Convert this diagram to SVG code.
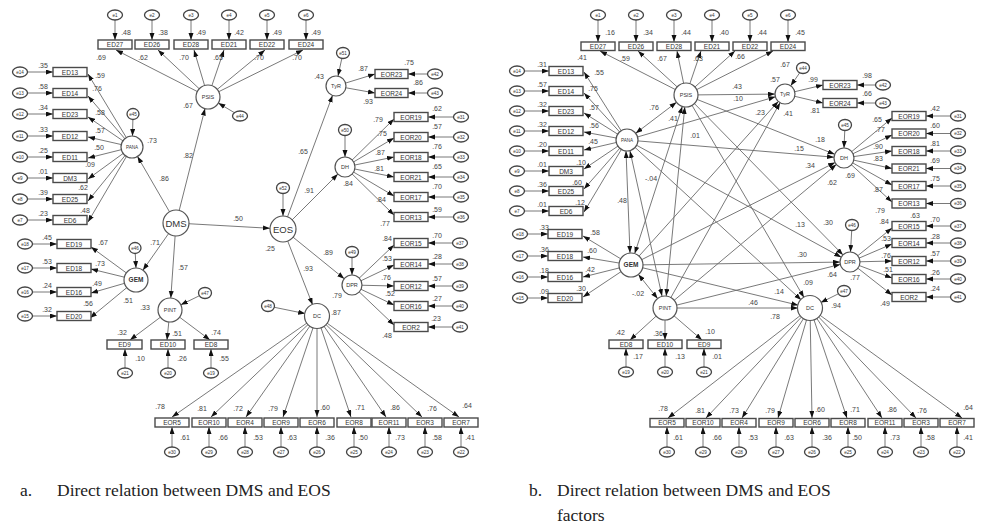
<svg xmlns="http://www.w3.org/2000/svg" width="992" height="532" viewBox="0 0 992 532">
<style>
.ln{stroke:#6a6a6a;stroke-width:0.9;fill:none;marker-end:url(#ah)}
.cv{stroke:#6a6a6a;stroke-width:0.9;fill:none;marker-start:url(#ah2);marker-end:url(#ah2)}
.bx{fill:#fff;stroke:#4a4a4a;stroke-width:1.4}
.lv{fill:#fff;stroke:#555;stroke-width:1.2}
.er{fill:#fff;stroke:#444;stroke-width:1.3}
.t{font-family:"Liberation Sans",Arial,sans-serif;font-size:6.5px;fill:#333;text-anchor:middle}
.et{font-size:4.6px}
.lt{font-size:5.5px}
.big{font-size:9.5px}
.v{font-family:"Liberation Sans",Arial,sans-serif;font-size:7px;fill:#444;text-anchor:middle}
.cap{font-family:"Liberation Serif","Times New Roman",serif;font-size:17.5px;fill:#222}
</style>
<defs>
<marker id="ah" markerUnits="userSpaceOnUse" markerWidth="8" markerHeight="6" refX="7" refY="2.5" orient="auto"><path d="M0,0 L7,2.5 L0,5 z" fill="#111"/></marker>
<marker id="ah2" markerUnits="userSpaceOnUse" markerWidth="8" markerHeight="6" refX="7" refY="2.5" orient="auto-start-reverse"><path d="M0,0 L7,2.5 L0,5 z" fill="#111"/></marker>
</defs>
<rect width="992" height="532" fill="#fff"/>

<g id="connectors-a">
<line class="ln" x1="115" y1="15" x2="115" y2="40"/><line class="ln" x1="152" y1="15" x2="152" y2="40"/><line class="ln" x1="191" y1="15" x2="191" y2="40"/><line class="ln" x1="229" y1="15" x2="229" y2="40"/><line class="ln" x1="267" y1="15" x2="267" y2="40"/><line class="ln" x1="306" y1="15" x2="306" y2="40"/>
<line class="ln" x1="208" y1="97" x2="116" y2="50"/><line class="ln" x1="208" y1="97" x2="158" y2="50"/><line class="ln" x1="208" y1="97" x2="194" y2="50"/><line class="ln" x1="208" y1="97" x2="224" y2="50"/><line class="ln" x1="208" y1="97" x2="265" y2="50"/><line class="ln" x1="208" y1="97" x2="303" y2="50"/>
<line class="ln" x1="240" y1="116" x2="218.3" y2="103.1"/>
<line class="ln" x1="20" y1="72" x2="53" y2="72"/><line class="ln" x1="20" y1="93" x2="53" y2="93"/><line class="ln" x1="20" y1="114" x2="53" y2="114"/><line class="ln" x1="20" y1="136" x2="53" y2="136"/><line class="ln" x1="20" y1="157" x2="53" y2="157"/><line class="ln" x1="20" y1="178" x2="53" y2="178"/><line class="ln" x1="20" y1="199" x2="53" y2="199"/><line class="ln" x1="20" y1="220" x2="53" y2="220"/>
<line class="ln" x1="132" y1="147" x2="88" y2="74"/><line class="ln" x1="132" y1="147" x2="88" y2="96"/><line class="ln" x1="132" y1="147" x2="88" y2="117"/><line class="ln" x1="132" y1="147" x2="88" y2="137"/><line class="ln" x1="132" y1="147" x2="88" y2="158"/><line class="ln" x1="132" y1="147" x2="88" y2="179"/><line class="ln" x1="132" y1="147" x2="88" y2="201"/><line class="ln" x1="132" y1="147" x2="88" y2="222"/>
<line class="ln" x1="133" y1="114" x2="132.5" y2="136"/>
<line class="ln" x1="25" y1="244" x2="57" y2="244"/><line class="ln" x1="25" y1="268" x2="57" y2="268"/><line class="ln" x1="25" y1="292" x2="57" y2="292"/><line class="ln" x1="25" y1="316" x2="57" y2="316"/>
<line class="ln" x1="136" y1="280" x2="91" y2="247"/><line class="ln" x1="136" y1="280" x2="91" y2="269"/><line class="ln" x1="136" y1="280" x2="91" y2="293"/><line class="ln" x1="136" y1="280" x2="90" y2="318"/>
<line class="ln" x1="135" y1="248" x2="136" y2="268"/>
<line class="ln" x1="205" y1="293" x2="180.8" y2="304.8"/>
<line class="ln" x1="170" y1="310" x2="130" y2="340"/><line class="ln" x1="170" y1="310" x2="167" y2="340"/><line class="ln" x1="170" y1="310" x2="210" y2="340"/>
<line class="ln" x1="125" y1="373" x2="125" y2="349"/><line class="ln" x1="168" y1="373" x2="168" y2="349"/><line class="ln" x1="211" y1="373" x2="211" y2="349"/>
<line class="ln" x1="176" y1="223" x2="205" y2="108.6"/><line class="ln" x1="176" y1="223" x2="137.5" y2="156.5"/><line class="ln" x1="176" y1="223" x2="142.9" y2="270.2"/><line class="ln" x1="176" y1="223" x2="170.8" y2="298"/><line class="ln" x1="176" y1="223" x2="270" y2="228.3"/>
<line class="ln" x1="283" y1="188" x2="283" y2="216"/>
<line class="ln" x1="283" y1="229" x2="332.5" y2="95.4"/><line class="ln" x1="283" y1="229" x2="337.9" y2="174.1"/><line class="ln" x1="283" y1="229" x2="344.2" y2="278.7"/><line class="ln" x1="283" y1="229" x2="312.6" y2="304.8"/>
<line class="ln" x1="343" y1="53" x2="338" y2="76"/>
<line class="ln" x1="336" y1="86" x2="375" y2="74"/><line class="ln" x1="336" y1="86" x2="375" y2="93"/>
<line class="ln" x1="435" y1="74" x2="408" y2="74"/><line class="ln" x1="435" y1="93" x2="408" y2="93"/>
<line class="ln" x1="345" y1="130" x2="345" y2="157"/>
<line class="ln" x1="345" y1="167" x2="394" y2="119"/><line class="ln" x1="345" y1="167" x2="394" y2="138"/><line class="ln" x1="345" y1="167" x2="394" y2="157"/><line class="ln" x1="345" y1="167" x2="394" y2="177"/><line class="ln" x1="345" y1="167" x2="394" y2="196"/><line class="ln" x1="345" y1="167" x2="394" y2="215"/>
<line class="ln" x1="461" y1="117" x2="428" y2="117"/><line class="ln" x1="461" y1="137" x2="428" y2="137"/><line class="ln" x1="461" y1="157" x2="428" y2="157"/><line class="ln" x1="461" y1="177" x2="428" y2="177"/><line class="ln" x1="461" y1="197" x2="428" y2="197"/><line class="ln" x1="461" y1="217" x2="428" y2="217"/>
<line class="ln" x1="352" y1="252" x2="352" y2="275"/>
<line class="ln" x1="352" y1="285" x2="394" y2="245"/><line class="ln" x1="352" y1="285" x2="394" y2="265"/><line class="ln" x1="352" y1="285" x2="394" y2="286"/><line class="ln" x1="352" y1="285" x2="394" y2="305"/><line class="ln" x1="352" y1="285" x2="394" y2="325"/>
<line class="ln" x1="460" y1="243" x2="428" y2="243"/><line class="ln" x1="460" y1="264" x2="428" y2="264"/><line class="ln" x1="460" y1="286" x2="428" y2="286"/><line class="ln" x1="460" y1="306" x2="428" y2="306"/><line class="ln" x1="460" y1="327" x2="428" y2="327"/>
<line class="ln" x1="268" y1="306" x2="305.2" y2="313.6"/>
<line class="ln" x1="317" y1="316" x2="172" y2="417"/><line class="ln" x1="317" y1="316" x2="211" y2="417"/><line class="ln" x1="317" y1="316" x2="246" y2="417"/><line class="ln" x1="317" y1="316" x2="283" y2="417"/><line class="ln" x1="317" y1="316" x2="317" y2="417"/><line class="ln" x1="317" y1="316" x2="351" y2="417"/><line class="ln" x1="317" y1="316" x2="386" y2="417"/><line class="ln" x1="317" y1="316" x2="422" y2="417"/><line class="ln" x1="317" y1="316" x2="459" y2="417"/>
<line class="ln" x1="172" y1="452" x2="172" y2="427"/><line class="ln" x1="209" y1="452" x2="209" y2="427"/><line class="ln" x1="245" y1="452" x2="245" y2="427"/><line class="ln" x1="281" y1="452" x2="281" y2="427"/><line class="ln" x1="317" y1="452" x2="317" y2="427"/><line class="ln" x1="354" y1="452" x2="354" y2="427"/><line class="ln" x1="389" y1="452" x2="389" y2="427"/><line class="ln" x1="425" y1="452" x2="425" y2="427"/><line class="ln" x1="461" y1="452" x2="461" y2="427"/>
</g>

<g id="connectors-b">
<line class="ln" x1="598" y1="15" x2="598" y2="42"/><line class="ln" x1="636" y1="15" x2="636" y2="42"/><line class="ln" x1="674" y1="15" x2="674" y2="42"/><line class="ln" x1="712" y1="15" x2="712" y2="42"/><line class="ln" x1="750" y1="15" x2="750" y2="42"/><line class="ln" x1="788" y1="15" x2="788" y2="42"/>
<line class="ln" x1="686" y1="95" x2="600" y2="51"/><line class="ln" x1="686" y1="95" x2="638" y2="51"/><line class="ln" x1="686" y1="95" x2="677" y2="51"/><line class="ln" x1="686" y1="95" x2="701" y2="51"/><line class="ln" x1="686" y1="95" x2="735" y2="51"/><line class="ln" x1="686" y1="95" x2="773" y2="51"/>
<line class="ln" x1="517" y1="71" x2="549" y2="71"/><line class="ln" x1="517" y1="91" x2="549" y2="91"/><line class="ln" x1="517" y1="111" x2="549" y2="111"/><line class="ln" x1="517" y1="131" x2="549" y2="131"/><line class="ln" x1="517" y1="151" x2="549" y2="151"/><line class="ln" x1="517" y1="171" x2="549" y2="171"/><line class="ln" x1="517" y1="191" x2="549" y2="191"/><line class="ln" x1="517" y1="211" x2="549" y2="211"/>
<line class="ln" x1="627" y1="140" x2="584" y2="72"/><line class="ln" x1="627" y1="140" x2="584" y2="93"/><line class="ln" x1="627" y1="140" x2="584" y2="113"/><line class="ln" x1="627" y1="140" x2="584" y2="132"/><line class="ln" x1="627" y1="140" x2="584" y2="150"/><line class="ln" x1="627" y1="140" x2="584" y2="169"/><line class="ln" x1="627" y1="140" x2="584" y2="189"/><line class="ln" x1="627" y1="140" x2="584" y2="212"/>
<line class="ln" x1="520" y1="234" x2="548" y2="234"/><line class="ln" x1="520" y1="256" x2="548" y2="256"/><line class="ln" x1="520" y1="277" x2="548" y2="277"/><line class="ln" x1="520" y1="298" x2="548" y2="298"/>
<line class="ln" x1="631" y1="265" x2="583" y2="236"/><line class="ln" x1="631" y1="265" x2="583" y2="257"/><line class="ln" x1="631" y1="265" x2="583" y2="277"/><line class="ln" x1="631" y1="265" x2="583" y2="297"/>
<line class="ln" x1="665" y1="308" x2="630" y2="340"/><line class="ln" x1="665" y1="308" x2="665" y2="340"/><line class="ln" x1="665" y1="308" x2="702" y2="340"/>
<line class="ln" x1="626" y1="372" x2="626" y2="348.5"/><line class="ln" x1="665" y1="372" x2="665" y2="348.5"/><line class="ln" x1="704" y1="372" x2="704" y2="348.5"/>
<line class="cv" x1="635.7" y1="133.3" x2="676.5" y2="102.3"/>
<line class="cv" x1="626" y1="151" x2="630" y2="253"/>
<line class="cv" x1="630" y1="151" x2="662" y2="296"/>
<line class="cv" x1="682.3" y1="106.4" x2="634.7" y2="253.6"/>
<line class="cv" x1="684.8" y1="106.9" x2="666.2" y2="296.1"/>
<line class="cv" x1="638.4" y1="274.4" x2="657.6" y2="298.6"/>
<line class="ln" x1="686" y1="95" x2="775" y2="94.1"/><line class="ln" x1="686" y1="95" x2="834.7" y2="154.3"/><line class="ln" x1="686" y1="95" x2="843" y2="254.9"/><line class="ln" x1="686" y1="95" x2="804" y2="297.6"/>
<line class="ln" x1="627" y1="140" x2="775.4" y2="96.8"/><line class="ln" x1="627" y1="140" x2="834" y2="157.2"/><line class="ln" x1="627" y1="140" x2="841.2" y2="257.2"/><line class="ln" x1="627" y1="140" x2="801.2" y2="299.9"/>
<line class="ln" x1="631" y1="265" x2="778.3" y2="101.4"/><line class="ln" x1="631" y1="265" x2="835.1" y2="162.5"/><line class="ln" x1="631" y1="265" x2="840" y2="262.1"/><line class="ln" x1="631" y1="265" x2="798.3" y2="305.2"/>
<line class="ln" x1="665" y1="308" x2="780.1" y2="102.7"/><line class="ln" x1="665" y1="308" x2="836.3" y2="164.4"/><line class="ln" x1="665" y1="308" x2="840.3" y2="264.4"/><line class="ln" x1="665" y1="308" x2="798" y2="308"/>
<line class="ln" x1="803" y1="68" x2="790.7" y2="85.8"/>
<line class="ln" x1="785" y1="94" x2="823" y2="85"/><line class="ln" x1="785" y1="94" x2="823" y2="103"/>
<line class="ln" x1="883" y1="85" x2="857" y2="85"/><line class="ln" x1="883" y1="103" x2="857" y2="103"/>
<line class="ln" x1="845" y1="125" x2="844" y2="148"/>
<line class="ln" x1="844" y1="158" x2="892" y2="118"/><line class="ln" x1="844" y1="158" x2="892" y2="135"/><line class="ln" x1="844" y1="158" x2="892" y2="151"/><line class="ln" x1="844" y1="158" x2="892" y2="168.5"/><line class="ln" x1="844" y1="158" x2="892" y2="185"/><line class="ln" x1="844" y1="158" x2="892" y2="202"/>
<line class="ln" x1="958" y1="116" x2="926" y2="116"/><line class="ln" x1="958" y1="133.5" x2="926" y2="133.5"/><line class="ln" x1="958" y1="151" x2="926" y2="151"/><line class="ln" x1="958" y1="168.5" x2="926" y2="168.5"/><line class="ln" x1="958" y1="186" x2="926" y2="186"/><line class="ln" x1="958" y1="203.5" x2="926" y2="203.5"/>
<line class="ln" x1="852" y1="225" x2="850.5" y2="252"/>
<line class="ln" x1="850" y1="262" x2="892" y2="228"/><line class="ln" x1="850" y1="262" x2="892" y2="244"/><line class="ln" x1="850" y1="262" x2="892" y2="261"/><line class="ln" x1="850" y1="262" x2="892" y2="278"/><line class="ln" x1="850" y1="262" x2="892" y2="295"/>
<line class="ln" x1="958" y1="226" x2="926" y2="226"/><line class="ln" x1="958" y1="243" x2="926" y2="243"/><line class="ln" x1="958" y1="261" x2="926" y2="261"/><line class="ln" x1="958" y1="279" x2="926" y2="279"/><line class="ln" x1="958" y1="297" x2="926" y2="297"/>
<line class="ln" x1="844" y1="291" x2="820.7" y2="302.6"/>
<line class="ln" x1="810" y1="308" x2="668" y2="418"/><line class="ln" x1="810" y1="308" x2="706" y2="418"/><line class="ln" x1="810" y1="308" x2="742" y2="418"/><line class="ln" x1="810" y1="308" x2="778" y2="418"/><line class="ln" x1="810" y1="308" x2="812" y2="418"/><line class="ln" x1="810" y1="308" x2="847" y2="418"/><line class="ln" x1="810" y1="308" x2="882" y2="418"/><line class="ln" x1="810" y1="308" x2="916" y2="418"/><line class="ln" x1="810" y1="308" x2="962" y2="418"/>
<line class="ln" x1="667" y1="452" x2="667" y2="427"/><line class="ln" x1="703" y1="452" x2="703" y2="427"/><line class="ln" x1="739" y1="452" x2="739" y2="427"/><line class="ln" x1="776" y1="452" x2="776" y2="427"/><line class="ln" x1="812" y1="452" x2="812" y2="427"/><line class="ln" x1="848" y1="452" x2="848" y2="427"/><line class="ln" x1="885" y1="452" x2="885" y2="427"/><line class="ln" x1="921" y1="452" x2="921" y2="427"/><line class="ln" x1="957" y1="452" x2="957" y2="427"/>
</g>

<!-- Panel a nodes -->
<g id="a-e1"><ellipse class="er" cx="115" cy="15" rx="7.5" ry="5"/><text class="t et" x="115" y="16.6">e1</text></g>
<g id="a-e2"><ellipse class="er" cx="152" cy="15" rx="7.5" ry="5"/><text class="t et" x="152" y="16.6">e2</text></g>
<g id="a-e3"><ellipse class="er" cx="191" cy="15" rx="7.5" ry="5"/><text class="t et" x="191" y="16.6">e3</text></g>
<g id="a-e4"><ellipse class="er" cx="229" cy="15" rx="7.5" ry="5"/><text class="t et" x="229" y="16.6">e4</text></g>
<g id="a-e5"><ellipse class="er" cx="267" cy="15" rx="7.5" ry="5"/><text class="t et" x="267" y="16.6">e5</text></g>
<g id="a-e6"><ellipse class="er" cx="306" cy="15" rx="7.5" ry="5"/><text class="t et" x="306" y="16.6">e6</text></g>
<g id="a-ED27"><rect class="bx" x="98" y="40" width="34" height="9"/><text class="t" x="115" y="47">ED27</text></g>
<g id="a-ED26"><rect class="bx" x="135" y="40" width="34" height="9"/><text class="t" x="152" y="47">ED26</text></g>
<g id="a-ED28"><rect class="bx" x="174" y="40" width="34" height="9"/><text class="t" x="191" y="47">ED28</text></g>
<g id="a-ED21"><rect class="bx" x="212" y="40" width="34" height="9"/><text class="t" x="229" y="47">ED21</text></g>
<g id="a-ED22"><rect class="bx" x="250" y="40" width="34" height="9"/><text class="t" x="267" y="47">ED22</text></g>
<g id="a-ED24"><rect class="bx" x="289" y="40" width="34" height="9"/><text class="t" x="306" y="47">ED24</text></g>
<g id="a-PSIS"><circle class="lv" cx="208" cy="97" r="12"/><text class="t lt" x="208" y="99">PSIS</text></g>
<g id="a-e44"><ellipse class="er" cx="240" cy="116" rx="7.5" ry="5"/><text class="t et" x="240" y="117.6">e44</text></g>

<g id="a-e14"><ellipse class="er" cx="20" cy="72" rx="7.5" ry="5"/><text class="t et" x="20" y="73.6">e14</text></g>
<g id="a-e13"><ellipse class="er" cx="20" cy="93" rx="7.5" ry="5"/><text class="t et" x="20" y="94.6">e13</text></g>
<g id="a-e12"><ellipse class="er" cx="20" cy="114" rx="7.5" ry="5"/><text class="t et" x="20" y="115.6">e12</text></g>
<g id="a-e11"><ellipse class="er" cx="20" cy="136" rx="7.5" ry="5"/><text class="t et" x="20" y="137.6">e11</text></g>
<g id="a-e10"><ellipse class="er" cx="20" cy="157" rx="7.5" ry="5"/><text class="t et" x="20" y="158.6">e10</text></g>
<g id="a-e9"><ellipse class="er" cx="20" cy="178" rx="7.5" ry="5"/><text class="t et" x="20" y="179.6">e9</text></g>
<g id="a-e8"><ellipse class="er" cx="20" cy="199" rx="7.5" ry="5"/><text class="t et" x="20" y="200.6">e8</text></g>
<g id="a-e7"><ellipse class="er" cx="20" cy="220" rx="7.5" ry="5"/><text class="t et" x="20" y="221.6">e7</text></g>
<g id="a-ED13"><rect class="bx" x="53" y="67.5" width="34" height="9"/><text class="t" x="70" y="74.5">ED13</text></g>
<g id="a-ED14"><rect class="bx" x="53" y="88.5" width="34" height="9"/><text class="t" x="70" y="95.5">ED14</text></g>
<g id="a-ED23"><rect class="bx" x="53" y="109.5" width="34" height="9"/><text class="t" x="70" y="116.5">ED23</text></g>
<g id="a-ED12"><rect class="bx" x="53" y="131.5" width="34" height="9"/><text class="t" x="70" y="138.5">ED12</text></g>
<g id="a-ED11"><rect class="bx" x="53" y="152.5" width="34" height="9"/><text class="t" x="70" y="159.5">ED11</text></g>
<g id="a-DM3"><rect class="bx" x="53" y="173.5" width="34" height="9"/><text class="t" x="70" y="180.5">DM3</text></g>
<g id="a-ED25"><rect class="bx" x="53" y="194.5" width="34" height="9"/><text class="t" x="70" y="201.5">ED25</text></g>
<g id="a-ED6"><rect class="bx" x="53" y="215.5" width="34" height="9"/><text class="t" x="70" y="222.5">ED6</text></g>
<g id="a-PANA"><circle class="lv" cx="132" cy="147" r="11"/><text class="t et" x="132" y="148.8">PANA</text></g>
<g id="a-e45"><ellipse class="er" cx="133" cy="114" rx="6" ry="5.5"/><text class="t et" x="133" y="115.6">e45</text></g>

<g id="a-e18"><ellipse class="er" cx="25" cy="244" rx="7.5" ry="5"/><text class="t et" x="25" y="245.6">e18</text></g>
<g id="a-e17"><ellipse class="er" cx="25" cy="268" rx="7.5" ry="5"/><text class="t et" x="25" y="269.6">e17</text></g>
<g id="a-e16"><ellipse class="er" cx="25" cy="292" rx="7.5" ry="5"/><text class="t et" x="25" y="293.6">e16</text></g>
<g id="a-e15"><ellipse class="er" cx="25" cy="316" rx="7.5" ry="5"/><text class="t et" x="25" y="317.6">e15</text></g>
<g id="a-ED19"><rect class="bx" x="57" y="239.5" width="34" height="9"/><text class="t" x="74" y="246.5">ED19</text></g>
<g id="a-ED18"><rect class="bx" x="57" y="263.5" width="34" height="9"/><text class="t" x="74" y="270.5">ED18</text></g>
<g id="a-ED16"><rect class="bx" x="57" y="287.5" width="34" height="9"/><text class="t" x="74" y="294.5">ED16</text></g>
<g id="a-ED20"><rect class="bx" x="57" y="311.5" width="34" height="9"/><text class="t" x="74" y="318.5">ED20</text></g>
<g id="a-GEM"><circle class="lv" cx="136" cy="280" r="12"/><text class="t" x="136" y="282.3" font-weight="bold">GEM</text></g>
<g id="a-e46"><ellipse class="er" cx="135" cy="248" rx="6" ry="5.5"/><text class="t et" x="135" y="249.6">e46</text></g>

<g id="a-PINT"><circle class="lv" cx="170" cy="310" r="12"/><text class="t lt" x="170" y="312">PINT</text></g>
<g id="a-e47"><ellipse class="er" cx="205" cy="293" rx="6.5" ry="5.5"/><text class="t et" x="205" y="294.6">e47</text></g>
<g id="a-ED9"><rect class="bx" x="107" y="340" width="35" height="9"/><text class="t" x="124.5" y="347">ED9</text></g>
<g id="a-ED10"><rect class="bx" x="151" y="340" width="34" height="9"/><text class="t" x="168" y="347">ED10</text></g>
<g id="a-ED8"><rect class="bx" x="194" y="340" width="34" height="9"/><text class="t" x="211" y="347">ED8</text></g>
<g id="a-e21"><ellipse class="er" cx="125" cy="373" rx="7.5" ry="5"/><text class="t et" x="125" y="374.6">e21</text></g>
<g id="a-e20"><ellipse class="er" cx="168" cy="373" rx="7.5" ry="5"/><text class="t et" x="168" y="374.6">e20</text></g>
<g id="a-e19"><ellipse class="er" cx="211" cy="373" rx="7.5" ry="5"/><text class="t et" x="211" y="374.6">e19</text></g>

<g id="a-DMS"><circle class="lv" cx="176" cy="223" r="13"/><text class="t big" x="176" y="226.5">DMS</text></g>
<g id="a-EOS"><circle class="lv" cx="283" cy="229" r="13"/><text class="t big" x="283" y="232.5">EOS</text></g>
<g id="a-e52"><ellipse class="er" cx="283" cy="188" rx="6.5" ry="5.5"/><text class="t et" x="283" y="189.6">e52</text></g>

<g id="a-TyR"><circle class="lv" cx="336" cy="86" r="10"/><text class="t lt" x="336" y="88">TyR</text></g>
<g id="a-e51"><ellipse class="er" cx="343" cy="53" rx="6.5" ry="5.5"/><text class="t et" x="343" y="54.6">e51</text></g>
<g id="a-EOR23"><rect class="bx" x="375" y="69.5" width="33" height="9"/><text class="t" x="391.5" y="76.5">EOR23</text></g>
<g id="a-EOR24"><rect class="bx" x="375" y="88.5" width="33" height="9"/><text class="t" x="391.5" y="95.5">EOR24</text></g>
<g id="a-e42"><ellipse class="er" cx="435" cy="74" rx="7.5" ry="5"/><text class="t et" x="435" y="75.6">e42</text></g>
<g id="a-e43"><ellipse class="er" cx="435" cy="93" rx="7.5" ry="5"/><text class="t et" x="435" y="94.6">e43</text></g>

<g id="a-DH"><circle class="lv" cx="345" cy="167" r="10"/><text class="t lt" x="345" y="169">DH</text></g>
<g id="a-e50"><ellipse class="er" cx="345" cy="130" rx="6.5" ry="5.5"/><text class="t et" x="345" y="131.6">e50</text></g>
<g id="a-EOR19"><rect class="bx" x="394" y="112.5" width="34" height="9"/><text class="t" x="411" y="119.5">EOR19</text></g>
<g id="a-EOR20"><rect class="bx" x="394" y="132.5" width="34" height="9"/><text class="t" x="411" y="139.5">EOR20</text></g>
<g id="a-EOR18"><rect class="bx" x="394" y="152.5" width="34" height="9"/><text class="t" x="411" y="159.5">EOR18</text></g>
<g id="a-EOR21"><rect class="bx" x="394" y="172.5" width="34" height="9"/><text class="t" x="411" y="179.5">EOR21</text></g>
<g id="a-EOR17"><rect class="bx" x="394" y="192.5" width="34" height="9"/><text class="t" x="411" y="199.5">EOR17</text></g>
<g id="a-EOR13"><rect class="bx" x="394" y="212.5" width="34" height="9"/><text class="t" x="411" y="219.5">EOR13</text></g>
<g id="a-e31"><ellipse class="er" cx="461" cy="117" rx="7.5" ry="5"/><text class="t et" x="461" y="118.6">e31</text></g>
<g id="a-e32"><ellipse class="er" cx="461" cy="137" rx="7.5" ry="5"/><text class="t et" x="461" y="138.6">e32</text></g>
<g id="a-e33"><ellipse class="er" cx="461" cy="157" rx="7.5" ry="5"/><text class="t et" x="461" y="158.6">e33</text></g>
<g id="a-e34"><ellipse class="er" cx="461" cy="177" rx="7.5" ry="5"/><text class="t et" x="461" y="178.6">e34</text></g>
<g id="a-e35"><ellipse class="er" cx="461" cy="197" rx="7.5" ry="5"/><text class="t et" x="461" y="198.6">e35</text></g>
<g id="a-e36"><ellipse class="er" cx="461" cy="217" rx="7.5" ry="5"/><text class="t et" x="461" y="218.6">e36</text></g>

<g id="a-DPR"><circle class="lv" cx="352" cy="285" r="10"/><text class="t lt" x="352" y="287">DPR</text></g>
<g id="a-e49"><ellipse class="er" cx="352" cy="252" rx="6.5" ry="5.5"/><text class="t et" x="352" y="253.6">e49</text></g>
<g id="a-EOR15"><rect class="bx" x="394" y="238.5" width="34" height="9"/><text class="t" x="411" y="245.5">EOR15</text></g>
<g id="a-EOR14"><rect class="bx" x="394" y="259.5" width="34" height="9"/><text class="t" x="411" y="266.5">EOR14</text></g>
<g id="a-EOR12"><rect class="bx" x="394" y="281.5" width="34" height="9"/><text class="t" x="411" y="288.5">EOR12</text></g>
<g id="a-EOR16"><rect class="bx" x="394" y="301.5" width="34" height="9"/><text class="t" x="411" y="308.5">EOR16</text></g>
<g id="a-EOR2"><rect class="bx" x="394" y="322.5" width="34" height="9"/><text class="t" x="411" y="329.5">EOR2</text></g>
<g id="a-e37"><ellipse class="er" cx="460" cy="243" rx="7.5" ry="5"/><text class="t et" x="460" y="244.6">e37</text></g>
<g id="a-e38"><ellipse class="er" cx="460" cy="264" rx="7.5" ry="5"/><text class="t et" x="460" y="265.6">e38</text></g>
<g id="a-e39"><ellipse class="er" cx="460" cy="286" rx="7.5" ry="5"/><text class="t et" x="460" y="287.6">e39</text></g>
<g id="a-e40"><ellipse class="er" cx="460" cy="306" rx="7.5" ry="5"/><text class="t et" x="460" y="307.6">e40</text></g>
<g id="a-e41"><ellipse class="er" cx="460" cy="327" rx="7.5" ry="5"/><text class="t et" x="460" y="328.6">e41</text></g>

<g id="a-DC"><circle class="lv" cx="317" cy="316" r="12.5"/><text class="t lt" x="317" y="318">DC</text></g>
<g id="a-e48"><ellipse class="er" cx="268" cy="306" rx="6.5" ry="5.5"/><text class="t et" x="268" y="307.6">e48</text></g>
<g id="a-EOR5"><rect class="bx" x="155" y="418" width="34" height="9"/><text class="t" x="172" y="425">EOR5</text></g>
<g id="a-EOR10"><rect class="bx" x="192" y="418" width="34" height="9"/><text class="t" x="209" y="425">EOR10</text></g>
<g id="a-EOR4"><rect class="bx" x="228" y="418" width="34" height="9"/><text class="t" x="245" y="425">EOR4</text></g>
<g id="a-EOR9"><rect class="bx" x="264" y="418" width="34" height="9"/><text class="t" x="281" y="425">EOR9</text></g>
<g id="a-EOR6"><rect class="bx" x="300" y="418" width="34" height="9"/><text class="t" x="317" y="425">EOR6</text></g>
<g id="a-EOR8"><rect class="bx" x="337" y="418" width="34" height="9"/><text class="t" x="354" y="425">EOR8</text></g>
<g id="a-EOR11"><rect class="bx" x="372" y="418" width="34" height="9"/><text class="t" x="389" y="425">EOR11</text></g>
<g id="a-EOR3"><rect class="bx" x="408" y="418" width="34" height="9"/><text class="t" x="425" y="425">EOR3</text></g>
<g id="a-EOR7"><rect class="bx" x="444" y="418" width="34" height="9"/><text class="t" x="461" y="425">EOR7</text></g>
<g id="a-e30"><ellipse class="er" cx="172" cy="452" rx="7.5" ry="5"/><text class="t et" x="172" y="453.6">e30</text></g>
<g id="a-e29"><ellipse class="er" cx="209" cy="452" rx="7.5" ry="5"/><text class="t et" x="209" y="453.6">e29</text></g>
<g id="a-e28"><ellipse class="er" cx="245" cy="452" rx="7.5" ry="5"/><text class="t et" x="245" y="453.6">e28</text></g>
<g id="a-e27"><ellipse class="er" cx="281" cy="452" rx="7.5" ry="5"/><text class="t et" x="281" y="453.6">e27</text></g>
<g id="a-e26"><ellipse class="er" cx="317" cy="452" rx="7.5" ry="5"/><text class="t et" x="317" y="453.6">e26</text></g>
<g id="a-e25"><ellipse class="er" cx="354" cy="452" rx="7.5" ry="5"/><text class="t et" x="354" y="453.6">e25</text></g>
<g id="a-e24"><ellipse class="er" cx="389" cy="452" rx="7.5" ry="5"/><text class="t et" x="389" y="453.6">e24</text></g>
<g id="a-e23"><ellipse class="er" cx="425" cy="452" rx="7.5" ry="5"/><text class="t et" x="425" y="453.6">e23</text></g>
<g id="a-e22"><ellipse class="er" cx="461" cy="452" rx="7.5" ry="5"/><text class="t et" x="461" y="453.6">e22</text></g>

<!-- Panel b nodes -->
<g id="b-e1"><ellipse class="er" cx="598" cy="15" rx="7.5" ry="5"/><text class="t et" x="598" y="16.6">e1</text></g>
<g id="b-e2"><ellipse class="er" cx="636" cy="15" rx="7.5" ry="5"/><text class="t et" x="636" y="16.6">e2</text></g>
<g id="b-e3"><ellipse class="er" cx="674" cy="15" rx="7.5" ry="5"/><text class="t et" x="674" y="16.6">e3</text></g>
<g id="b-e4"><ellipse class="er" cx="712" cy="15" rx="7.5" ry="5"/><text class="t et" x="712" y="16.6">e4</text></g>
<g id="b-e5"><ellipse class="er" cx="750" cy="15" rx="7.5" ry="5"/><text class="t et" x="750" y="16.6">e5</text></g>
<g id="b-e6"><ellipse class="er" cx="788" cy="15" rx="7.5" ry="5"/><text class="t et" x="788" y="16.6">e6</text></g>
<g id="b-ED27"><rect class="bx" x="581" y="42" width="34" height="8.5"/><text class="t" x="598" y="48.8">ED27</text></g>
<g id="b-ED26"><rect class="bx" x="619" y="42" width="34" height="8.5"/><text class="t" x="636" y="48.8">ED26</text></g>
<g id="b-ED28"><rect class="bx" x="657" y="42" width="34" height="8.5"/><text class="t" x="674" y="48.8">ED28</text></g>
<g id="b-ED21"><rect class="bx" x="695" y="42" width="34" height="8.5"/><text class="t" x="712" y="48.8">ED21</text></g>
<g id="b-ED22"><rect class="bx" x="733" y="42" width="34" height="8.5"/><text class="t" x="750" y="48.8">ED22</text></g>
<g id="b-ED24"><rect class="bx" x="771" y="42" width="34" height="8.5"/><text class="t" x="788" y="48.8">ED24</text></g>
<g id="b-PSIS"><circle class="lv" cx="686" cy="95" r="12"/><text class="t lt" x="686" y="97">PSIS</text></g>

<g id="b-e14"><ellipse class="er" cx="517" cy="71" rx="7.5" ry="5"/><text class="t et" x="517" y="72.6">e14</text></g>
<g id="b-e13"><ellipse class="er" cx="517" cy="91" rx="7.5" ry="5"/><text class="t et" x="517" y="92.6">e13</text></g>
<g id="b-e12"><ellipse class="er" cx="517" cy="111" rx="7.5" ry="5"/><text class="t et" x="517" y="112.6">e12</text></g>
<g id="b-e11"><ellipse class="er" cx="517" cy="131" rx="7.5" ry="5"/><text class="t et" x="517" y="132.6">e11</text></g>
<g id="b-e10"><ellipse class="er" cx="517" cy="151" rx="7.5" ry="5"/><text class="t et" x="517" y="152.6">e10</text></g>
<g id="b-e9"><ellipse class="er" cx="517" cy="171" rx="7.5" ry="5"/><text class="t et" x="517" y="172.6">e9</text></g>
<g id="b-e8"><ellipse class="er" cx="517" cy="191" rx="7.5" ry="5"/><text class="t et" x="517" y="192.6">e8</text></g>
<g id="b-e7"><ellipse class="er" cx="517" cy="211" rx="7.5" ry="5"/><text class="t et" x="517" y="212.6">e7</text></g>
<g id="b-ED13"><rect class="bx" x="549" y="66.5" width="34" height="9"/><text class="t" x="566" y="73.5">ED13</text></g>
<g id="b-ED14"><rect class="bx" x="549" y="86.5" width="34" height="9"/><text class="t" x="566" y="93.5">ED14</text></g>
<g id="b-ED23"><rect class="bx" x="549" y="106.5" width="34" height="9"/><text class="t" x="566" y="113.5">ED23</text></g>
<g id="b-ED12"><rect class="bx" x="549" y="126.5" width="34" height="9"/><text class="t" x="566" y="133.5">ED12</text></g>
<g id="b-ED11"><rect class="bx" x="549" y="146.5" width="34" height="9"/><text class="t" x="566" y="153.5">ED11</text></g>
<g id="b-DM3"><rect class="bx" x="549" y="166.5" width="34" height="9"/><text class="t" x="566" y="173.5">DM3</text></g>
<g id="b-ED25"><rect class="bx" x="549" y="186.5" width="34" height="9"/><text class="t" x="566" y="193.5">ED25</text></g>
<g id="b-ED6"><rect class="bx" x="549" y="206.5" width="34" height="9"/><text class="t" x="566" y="213.5">ED6</text></g>
<g id="b-PANA"><circle class="lv" cx="627" cy="140" r="11"/><text class="t et" x="627" y="141.8">PANA</text></g>

<g id="b-e18"><ellipse class="er" cx="520" cy="234" rx="7.5" ry="5"/><text class="t et" x="520" y="235.6">e18</text></g>
<g id="b-e17"><ellipse class="er" cx="520" cy="256" rx="7.5" ry="5"/><text class="t et" x="520" y="257.6">e17</text></g>
<g id="b-e16"><ellipse class="er" cx="520" cy="277" rx="7.5" ry="5"/><text class="t et" x="520" y="278.6">e16</text></g>
<g id="b-e15"><ellipse class="er" cx="520" cy="298" rx="7.5" ry="5"/><text class="t et" x="520" y="299.6">e15</text></g>
<g id="b-ED19"><rect class="bx" x="548" y="229.5" width="34" height="9"/><text class="t" x="565" y="236.5">ED19</text></g>
<g id="b-ED18"><rect class="bx" x="548" y="251.5" width="34" height="9"/><text class="t" x="565" y="258.5">ED18</text></g>
<g id="b-ED16"><rect class="bx" x="548" y="272.5" width="34" height="9"/><text class="t" x="565" y="279.5">ED16</text></g>
<g id="b-ED20"><rect class="bx" x="548" y="293.5" width="34" height="9"/><text class="t" x="565" y="300.5">ED20</text></g>
<g id="b-GEM"><circle class="lv" cx="631" cy="265" r="12"/><text class="t" x="631" y="267.3" font-weight="bold">GEM</text></g>

<g id="b-PINT"><circle class="lv" cx="665" cy="308" r="12"/><text class="t lt" x="665" y="310">PINT</text></g>
<g id="b-ED8"><rect class="bx" x="609" y="340" width="34" height="8.5"/><text class="t" x="626" y="346.8">ED8</text></g>
<g id="b-ED10"><rect class="bx" x="648" y="340" width="34" height="8.5"/><text class="t" x="665" y="346.8">ED10</text></g>
<g id="b-ED9"><rect class="bx" x="687" y="340" width="34" height="8.5"/><text class="t" x="704" y="346.8">ED9</text></g>
<g id="b-e19"><ellipse class="er" cx="626" cy="372" rx="7.5" ry="5"/><text class="t et" x="626" y="373.6">e19</text></g>
<g id="b-e20"><ellipse class="er" cx="665" cy="372" rx="7.5" ry="5"/><text class="t et" x="665" y="373.6">e20</text></g>
<g id="b-e21"><ellipse class="er" cx="704" cy="372" rx="7.5" ry="5"/><text class="t et" x="704" y="373.6">e21</text></g>

<g id="b-TyR"><circle class="lv" cx="785" cy="94" r="10"/><text class="t lt" x="785" y="96">TyR</text></g>
<g id="b-e44"><ellipse class="er" cx="803" cy="68" rx="6.5" ry="5.5"/><text class="t et" x="803" y="69.6">e44</text></g>
<g id="b-EOR23"><rect class="bx" x="823" y="80.5" width="34" height="9"/><text class="t" x="840" y="87.5">EOR23</text></g>
<g id="b-EOR24"><rect class="bx" x="823" y="98.5" width="34" height="9"/><text class="t" x="840" y="105.5">EOR24</text></g>
<g id="b-e42"><ellipse class="er" cx="883" cy="85" rx="7.5" ry="5"/><text class="t et" x="883" y="86.6">e42</text></g>
<g id="b-e43"><ellipse class="er" cx="883" cy="103" rx="7.5" ry="5"/><text class="t et" x="883" y="104.6">e43</text></g>

<g id="b-DH"><circle class="lv" cx="844" cy="158" r="10"/><text class="t lt" x="844" y="160">DH</text></g>
<g id="b-e45"><ellipse class="er" cx="845" cy="125" rx="6.5" ry="5.5"/><text class="t et" x="845" y="126.6">e45</text></g>
<g id="b-EOR19"><rect class="bx" x="892" y="111.5" width="34" height="9"/><text class="t" x="909" y="118.5">EOR19</text></g>
<g id="b-EOR20"><rect class="bx" x="892" y="129" width="34" height="9"/><text class="t" x="909" y="136">EOR20</text></g>
<g id="b-EOR18"><rect class="bx" x="892" y="146.5" width="34" height="9"/><text class="t" x="909" y="153.5">EOR18</text></g>
<g id="b-EOR21"><rect class="bx" x="892" y="164" width="34" height="9"/><text class="t" x="909" y="171">EOR21</text></g>
<g id="b-EOR17"><rect class="bx" x="892" y="181.5" width="34" height="9"/><text class="t" x="909" y="188.5">EOR17</text></g>
<g id="b-EOR13"><rect class="bx" x="892" y="199" width="34" height="9"/><text class="t" x="909" y="206">EOR13</text></g>
<g id="b-e31"><ellipse class="er" cx="958" cy="116" rx="7.5" ry="5"/><text class="t et" x="958" y="117.6">e31</text></g>
<g id="b-e32"><ellipse class="er" cx="958" cy="133.5" rx="7.5" ry="5"/><text class="t et" x="958" y="135.1">e32</text></g>
<g id="b-e33"><ellipse class="er" cx="958" cy="151" rx="7.5" ry="5"/><text class="t et" x="958" y="152.6">e33</text></g>
<g id="b-e34"><ellipse class="er" cx="958" cy="168.5" rx="7.5" ry="5"/><text class="t et" x="958" y="170.1">e34</text></g>
<g id="b-e35"><ellipse class="er" cx="958" cy="186" rx="7.5" ry="5"/><text class="t et" x="958" y="187.6">e35</text></g>
<g id="b-e36"><ellipse class="er" cx="958" cy="203.5" rx="7.5" ry="5"/><text class="t et" x="958" y="205.1">e36</text></g>

<g id="b-DPR"><circle class="lv" cx="850" cy="262" r="10"/><text class="t lt" x="850" y="264">DPR</text></g>
<g id="b-e46"><ellipse class="er" cx="852" cy="225" rx="6.5" ry="5.5"/><text class="t et" x="852" y="226.6">e46</text></g>
<g id="b-EOR15"><rect class="bx" x="892" y="221.5" width="34" height="9"/><text class="t" x="909" y="228.5">EOR15</text></g>
<g id="b-EOR14"><rect class="bx" x="892" y="238.5" width="34" height="9"/><text class="t" x="909" y="245.5">EOR14</text></g>
<g id="b-EOR12"><rect class="bx" x="892" y="256.5" width="34" height="9"/><text class="t" x="909" y="263.5">EOR12</text></g>
<g id="b-EOR16"><rect class="bx" x="892" y="274.5" width="34" height="9"/><text class="t" x="909" y="281.5">EOR16</text></g>
<g id="b-EOR2"><rect class="bx" x="892" y="292.5" width="34" height="9"/><text class="t" x="909" y="299.5">EOR2</text></g>
<g id="b-e37"><ellipse class="er" cx="958" cy="226" rx="7.5" ry="5"/><text class="t et" x="958" y="227.6">e37</text></g>
<g id="b-e38"><ellipse class="er" cx="958" cy="243" rx="7.5" ry="5"/><text class="t et" x="958" y="244.6">e38</text></g>
<g id="b-e39"><ellipse class="er" cx="958" cy="261" rx="7.5" ry="5"/><text class="t et" x="958" y="262.6">e39</text></g>
<g id="b-e40"><ellipse class="er" cx="958" cy="279" rx="7.5" ry="5"/><text class="t et" x="958" y="280.6">e40</text></g>
<g id="b-e41"><ellipse class="er" cx="958" cy="297" rx="7.5" ry="5"/><text class="t et" x="958" y="298.6">e41</text></g>

<g id="b-DC"><circle class="lv" cx="810" cy="308" r="12.5"/><text class="t lt" x="810" y="310">DC</text></g>
<g id="b-e47"><ellipse class="er" cx="844" cy="291" rx="6.5" ry="5.5"/><text class="t et" x="844" y="292.6">e47</text></g>
<g id="b-EOR5"><rect class="bx" x="650" y="418.5" width="34" height="8.5"/><text class="t" x="667" y="425.3">EOR5</text></g>
<g id="b-EOR10"><rect class="bx" x="686" y="418.5" width="34" height="8.5"/><text class="t" x="703" y="425.3">EOR10</text></g>
<g id="b-EOR4"><rect class="bx" x="722" y="418.5" width="34" height="8.5"/><text class="t" x="739" y="425.3">EOR4</text></g>
<g id="b-EOR9"><rect class="bx" x="759" y="418.5" width="34" height="8.5"/><text class="t" x="776" y="425.3">EOR9</text></g>
<g id="b-EOR6"><rect class="bx" x="795" y="418.5" width="34" height="8.5"/><text class="t" x="812" y="425.3">EOR6</text></g>
<g id="b-EOR8"><rect class="bx" x="831" y="418.5" width="34" height="8.5"/><text class="t" x="848" y="425.3">EOR8</text></g>
<g id="b-EOR11"><rect class="bx" x="868" y="418.5" width="34" height="8.5"/><text class="t" x="885" y="425.3">EOR11</text></g>
<g id="b-EOR3"><rect class="bx" x="904" y="418.5" width="34" height="8.5"/><text class="t" x="921" y="425.3">EOR3</text></g>
<g id="b-EOR7"><rect class="bx" x="940" y="418.5" width="34" height="8.5"/><text class="t" x="957" y="425.3">EOR7</text></g>
<g id="b-e30"><ellipse class="er" cx="667" cy="452" rx="7.5" ry="5"/><text class="t et" x="667" y="453.6">e30</text></g>
<g id="b-e29"><ellipse class="er" cx="703" cy="452" rx="7.5" ry="5"/><text class="t et" x="703" y="453.6">e29</text></g>
<g id="b-e28"><ellipse class="er" cx="739" cy="452" rx="7.5" ry="5"/><text class="t et" x="739" y="453.6">e28</text></g>
<g id="b-e27"><ellipse class="er" cx="776" cy="452" rx="7.5" ry="5"/><text class="t et" x="776" y="453.6">e27</text></g>
<g id="b-e26"><ellipse class="er" cx="812" cy="452" rx="7.5" ry="5"/><text class="t et" x="812" y="453.6">e26</text></g>
<g id="b-e25"><ellipse class="er" cx="848" cy="452" rx="7.5" ry="5"/><text class="t et" x="848" y="453.6">e25</text></g>
<g id="b-e24"><ellipse class="er" cx="885" cy="452" rx="7.5" ry="5"/><text class="t et" x="885" y="453.6">e24</text></g>
<g id="b-e23"><ellipse class="er" cx="921" cy="452" rx="7.5" ry="5"/><text class="t et" x="921" y="453.6">e23</text></g>
<g id="b-e22"><ellipse class="er" cx="957" cy="452" rx="7.5" ry="5"/><text class="t et" x="957" y="453.6">e22</text></g>

<g id="labels-a" class="v">
<text x="126" y="35">.48</text><text x="163" y="35">.38</text><text x="201" y="35">.49</text><text x="239" y="35">.42</text><text x="277" y="35">.49</text><text x="316" y="35">.49</text>
<text x="101" y="60">.69</text><text x="143" y="60">.62</text><text x="184" y="60">.70</text><text x="218" y="60">.65</text><text x="259" y="60">.70</text><text x="297" y="60">.70</text>
<text x="188" y="108">.67</text>
<text x="43" y="68">.35</text><text x="43" y="89">.58</text><text x="43" y="110">.34</text><text x="43" y="132">.33</text><text x="43" y="153">.25</text><text x="43" y="174">.01</text><text x="43" y="195">.39</text><text x="43" y="216">.23</text>
<text x="100" y="78">.59</text><text x="97" y="91">.76</text><text x="100" y="115">.58</text><text x="100" y="133">.57</text><text x="99" y="150">.50</text><text x="90" y="167">.09</text><text x="83" y="190">.62</text><text x="85" y="213">.48</text>
<text x="152" y="143">.73</text><text x="164" y="181">.86</text><text x="188" y="158">.82</text>
<text x="47" y="240">.45</text><text x="47" y="264">.53</text><text x="47" y="288">.24</text><text x="47" y="312">.32</text>
<text x="103" y="245">.67</text><text x="100" y="266">.73</text><text x="97" y="286">.49</text><text x="88" y="306">.56</text>
<text x="155" y="245">.71</text><text x="128" y="303">.51</text>
<text x="183" y="270">.57</text><text x="145" y="310">.33</text>
<text x="122" y="335">.32</text><text x="177" y="336">.51</text><text x="216" y="335">.74</text>
<text x="140" y="361">.10</text><text x="182" y="361">.26</text><text x="224" y="361">.55</text>
<text x="238" y="221">.50</text><text x="270" y="251">.25</text>
<text x="303" y="154">.65</text><text x="309" y="193">.91</text><text x="328" y="255">.89</text><text x="308" y="271">.93</text>
<text x="319" y="79">.43</text><text x="363" y="71">.87</text><text x="368" y="104">.93</text><text x="409" y="65">.75</text><text x="418" y="85">.86</text>
<text x="348" y="186">.84</text>
<text x="378" y="122">.79</text><text x="382" y="136">.75</text><text x="380" y="155">.87</text><text x="379" y="171">.81</text><text x="381" y="202">.84</text><text x="385" y="226">.77</text>
<text x="437" y="111">.62</text><text x="437" y="129">.57</text><text x="437" y="149">.76</text><text x="437" y="169">.65</text><text x="437" y="189">.70</text><text x="437" y="212">.59</text>
<text x="337" y="298">.79</text>
<text x="387" y="241">.84</text><text x="387" y="261">.53</text><text x="386" y="280">.76</text><text x="390" y="296">.52</text><text x="387" y="338">.48</text>
<text x="437" y="238">.70</text><text x="437" y="259">.28</text><text x="437" y="281">.57</text><text x="437" y="301">.27</text><text x="436" y="321">.23</text>
<text x="336" y="315">.87</text>
<text x="160" y="409">.78</text><text x="202" y="411">.81</text><text x="238" y="411">.72</text><text x="273" y="411">.79</text><text x="325" y="410">.60</text><text x="360" y="410">.71</text><text x="395" y="410">.86</text><text x="432" y="411">.76</text><text x="467" y="408">.64</text>
<text x="185" y="440">.61</text><text x="223" y="440">.66</text><text x="258" y="440">.53</text><text x="292" y="440">.63</text><text x="330" y="440">.36</text><text x="363" y="440">.50</text><text x="400" y="440">.73</text><text x="437" y="440">.58</text><text x="470" y="440">.41</text>
</g>

<g id="labels-b" class="v">
<text x="610" y="35">.16</text><text x="648" y="35">.34</text><text x="686" y="35">.44</text><text x="724" y="35">.40</text><text x="762" y="35">.44</text><text x="800" y="35">.45</text>
<text x="582" y="60">.41</text><text x="625" y="61">.59</text><text x="662" y="61">.67</text><text x="698" y="61">.63</text><text x="740" y="59">.66</text><text x="785" y="67">.67</text>
<text x="542" y="67">.31</text><text x="542" y="87">.57</text><text x="542" y="107">.32</text><text x="542" y="127">.32</text><text x="542" y="147">.20</text><text x="542" y="167">.01</text><text x="542" y="187">.36</text><text x="542" y="207">.01</text>
<text x="599" y="75">.55</text><text x="593" y="91">.75</text><text x="594" y="110">.57</text><text x="594" y="128">.56</text><text x="593" y="144">.45</text><text x="581" y="165">.10</text><text x="577" y="185">.60</text><text x="580" y="205">.12</text>
<text x="544" y="230">.33</text><text x="544" y="252">.36</text><text x="544" y="273">.18</text><text x="544" y="294">.09</text>
<text x="595" y="235">.58</text><text x="592" y="253">.60</text><text x="590" y="272">.42</text><text x="581" y="291">.30</text>
<text x="654" y="110">.76</text><text x="673" y="121">.41</text><text x="695" y="138">.01</text><text x="622" y="203">.48</text><text x="651" y="181">-.04</text><text x="638" y="296">-.02</text>
<text x="620" y="335">.42</text><text x="658" y="336">.36</text><text x="710" y="334">.10</text>
<text x="638" y="359">.17</text><text x="680" y="359">.13</text><text x="717" y="359">.01</text>
<text x="775" y="82">.57</text><text x="737" y="89">.43</text><text x="738" y="101">.10</text><text x="760" y="115">.23</text><text x="788" y="116">.41</text>
<text x="813" y="82">.99</text><text x="815" y="113">.81</text><text x="867" y="78">.98</text><text x="867" y="96">.66</text>
<text x="820" y="142">.18</text><text x="799" y="151">.15</text><text x="810" y="168">.34</text><text x="832" y="185">.62</text><text x="850" y="178">.69</text>
<text x="877" y="122">.65</text><text x="880" y="132">.77</text><text x="878" y="149">.90</text><text x="878" y="161">.83</text><text x="878" y="192">.87</text><text x="880" y="213">.79</text>
<text x="935" y="111">.42</text><text x="935" y="128">.60</text><text x="935" y="146">.81</text><text x="935" y="163">.69</text><text x="935" y="181">.75</text>
<text x="800" y="227">.13</text><text x="828" y="225">.30</text><text x="802" y="257">.30</text><text x="832" y="277">.64</text><text x="855" y="280">.77</text>
<text x="884" y="224">.84</text><text x="886" y="241">.53</text><text x="886" y="258">.76</text><text x="888" y="272">.51</text><text x="885" y="306">.49</text>
<text x="915" y="218">.63</text><text x="935" y="222">.70</text><text x="935" y="239">.28</text><text x="935" y="256">.57</text><text x="935" y="275">.26</text><text x="935" y="291">.24</text>
<text x="808" y="285">.09</text><text x="779" y="294">.14</text><text x="753" y="305">.46</text><text x="775" y="319">.78</text><text x="836" y="308">.94</text>
<text x="663" y="411">.78</text><text x="700" y="413">.81</text><text x="734" y="413">.73</text><text x="770" y="413">.79</text><text x="820" y="412">.60</text><text x="855" y="412">.71</text><text x="892" y="412">.86</text><text x="922" y="413">.76</text><text x="968" y="410">.64</text>
<text x="678" y="440">.61</text><text x="717" y="440">.66</text><text x="753" y="440">.53</text><text x="789" y="440">.63</text><text x="827" y="440">.36</text><text x="857" y="440">.50</text><text x="895" y="440">.73</text><text x="930" y="440">.58</text><text x="968" y="440">.41</text>
</g>

<g id="captions" class="cap">
<text x="20" y="496">a.</text>
<text x="57" y="496">Direct relation between DMS and EOS</text>
<text x="529" y="496">b.</text>
<text x="557" y="496">Direct relation between DMS and EOS</text>
<text x="557" y="521">factors</text>
</g>
</svg>
